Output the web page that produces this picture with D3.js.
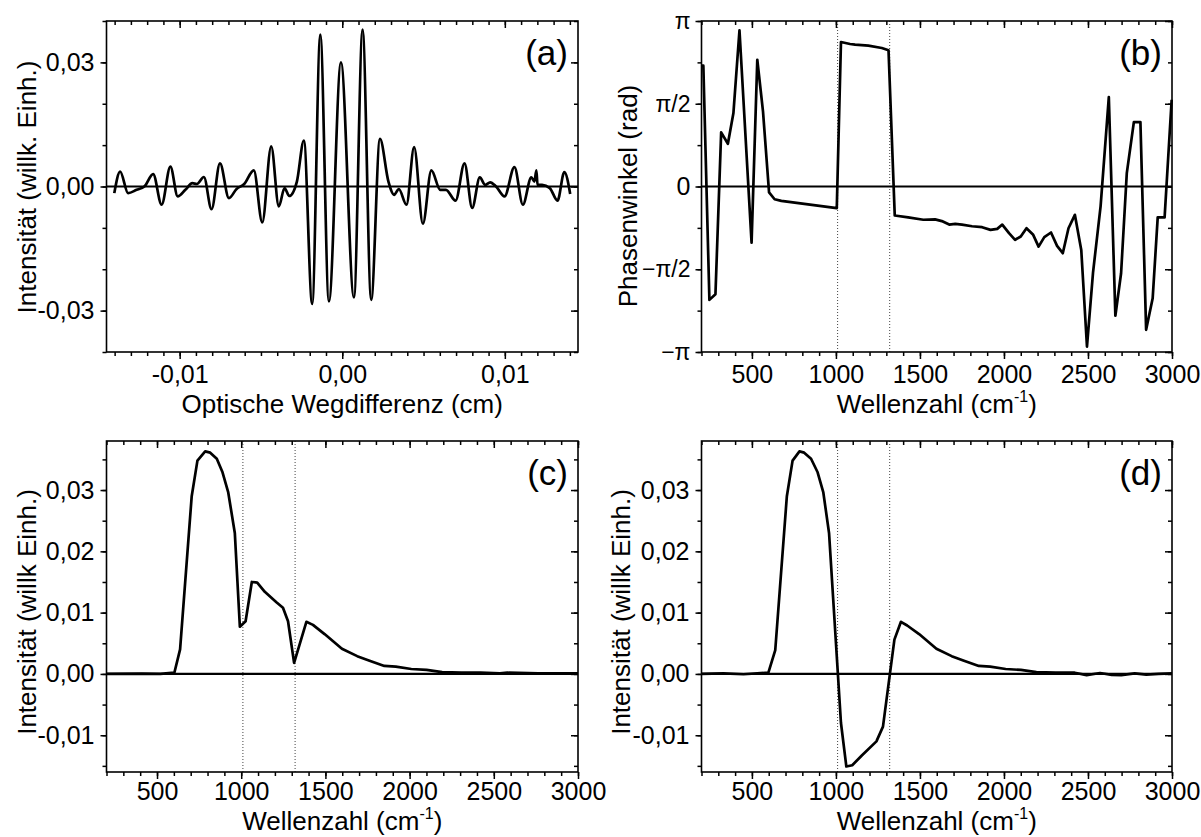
<!DOCTYPE html>
<html><head><meta charset="utf-8">
<script src="https://cdn.jsdelivr.net/npm/d3@7"></script>
<style>
body{margin:0;background:#fff}
svg text{font-family:"Liberation Sans",Arial,sans-serif;fill:#000}
</style>
</head><body>
<svg id="fig" width="1201" height="837"></svg>
<script>
// ---------- DATA ----------
// (a) interferogram: optical path difference (cm) vs intensity
const aX = [-0.01402,-0.01366,-0.01317,-0.01265,-0.01217,
  -0.01163,-0.01111,-0.01057,-0.01012,-0.00965,
  -0.00922,-0.00894,-0.00851,-0.00804,-0.00752,
  -0.00697,-0.00650,-0.00603,-0.00544,-0.00492,
  -0.00437,-0.00390,-0.00355,-0.00326,-0.00279,
  -0.00236,-0.00185,-0.00135,-0.00082,-0.00008,
  0.00072,0.00125,0.00178,0.00232,0.00284,
  0.00319,0.00348,0.00395,0.00442,0.00496,
  0.00548,0.00603,0.00638,0.00697,0.00752,
  0.00799,0.00846,0.00879,0.00910,0.00946,
  0.00998,0.01059,0.01111,0.01163,0.01182,
  0.01194,0.01201,0.01229,0.01277,0.01324,
  0.01366,0.01402];
const aY = [-0.0016,0.0036,-0.0016,-0.0008,0.0,
  0.0030,-0.0044,0.0048,-0.0024,-0.0008,
  0.0008,0.0006,0.0023,-0.0055,0.0056,
  -0.0028,-0.0006,0.0006,0.0039,-0.0087,
  0.0097,-0.0048,-0.0004,-0.0023,0.0012,
  0.0111,-0.0284,0.0367,-0.0278,0.0300,
  -0.0268,0.0379,-0.0274,0.0115,0.0012,
  -0.0020,-0.0006,-0.0044,0.0095,-0.0090,
  0.0039,-0.0008,-0.0008,-0.0034,0.0056,
  -0.0052,0.0022,0.0004,0.0010,0.0,
  -0.0024,0.0047,-0.0044,0.0022,0.0012,
  0.0039,0.0004,0.0004,-0.0004,-0.0034,
  0.0035,-0.0018];

// (b) phase angle (in units of pi) vs wavenumber
const bX = [203,211,247,283,317, 357,390,426,498,532, 566,602,635,675,1005,
  1030,1084,1114,1193,1273, 1313,1350,1430,1520,1590, 1630,1674,1710,1750,1810,
  1870,1920,1960,1990,2030, 2066,2100,2134,2174,2206, 2240,2280,2316,2350,2384,
  2422,2460,2494,2530,2575, 2624,2663,2697,2731,2773, 2812,2846,2885,2915,2956, 2998];
const bYpi = [0.73,0.73,-0.685,-0.651,0.327, 0.258,0.444,0.944,-0.339,0.766, 0.454,-0.036,-0.077,-0.087,-0.131,
  0.873,0.861,0.857,0.851,0.837, 0.823,-0.175,-0.187,-0.201,-0.199, -0.209,-0.230,-0.226,-0.230,-0.240,
  -0.246,-0.262,-0.256,-0.230,-0.282, -0.322,-0.302,-0.252,-0.292,-0.363, -0.306,-0.278,-0.359,-0.403,-0.252,
  -0.171,-0.383,-0.967,-0.52,-0.12, 0.540,-0.781,-0.524,0.081,0.389, 0.389,-0.866,-0.675,-0.187,-0.187, 0.524];

// (c) magnitude spectrum
const cX = [200,410,520,603,637, 706,740,786,816,855, 889,923,962,992,1026,
  1063,1095,1140,1209,1248, 1278,1314,1387,1426,1495, 1598,1689,1758,1850,1918,
  2010,2101,2193,2307,2421, 2536,2581,2764,3000];
const cY = [0,0.00005,0,0.0002,0.004, 0.029,0.0348,0.0363,0.0361,0.0351, 0.0329,0.0296,0.023,0.0077,0.0086,
  0.015,0.0149,0.0134,0.0117,0.0108, 0.0086,0.0018,0.0085,0.008,0.0065, 0.0041,0.0029,0.0022,0.0013,0.0012,
  0.0008,0.00065,0.0003,0.0002,0.0002, 0.0001,0.0002,0.0001,0.0001];

// (d) phase-corrected spectrum
const dX = [200,330,450,598,639, 708,742,783,811,852, 891,925,959,1030,1062,
  1097,1154,1241,1280,1348, 1387,1424,1495,1598,1689, 1758,1850,1918,2010,2101,
  2193,2307,2421,2492,2572, 2641,2698,2778,2847,2920, 3000];
const dY = [0,0.0001,-0.00005,0.0002,0.0039, 0.029,0.0348,0.0363,0.0361,0.0351, 0.0329,0.0296,0.023,-0.008,-0.0151,
  -0.0149,-0.0133,-0.011,-0.0086,0.0056, 0.0085,0.0079,0.0065,0.0041,0.0029, 0.0022,0.0013,0.0012,0.0008,0.00065,
  0.0003,0.0002,0.0002,-0.0002,0.00015, -0.00015,-0.0002,0.0001,-0.0001,0.0, 0.0001];

// marker wavenumbers (dotted lines)
const markerX = [1010, 1320];

// tick values / labels
const aXMajor = [-0.01, 0, 0.01];
const aYMajor = [-0.03, 0, 0.03];
const wnMajor = [500, 1000, 1500, 2000, 2500, 3000];
const bYMajorPi = [-1, -0.5, 0, 0.5, 1];
const bYLabels = ["\u2212\u03c0", "\u2212\u03c0/2", "0", "\u03c0/2", "\u03c0"];
const cdYMajor = [-0.01, 0, 0.01, 0.02, 0.03];

// ---------- DRAW ----------
const svg = d3.select("#fig");
const comma = v => { const s = Math.abs(v).toFixed(2).replace(".", ","); return (v < -1e-12 ? "-" : "") + s; };
const PI = Math.PI;

function panel(o) {
  const g = svg.append("g");
  const x = d3.scaleLinear().domain(o.xDomain).range([o.L, o.R]);
  const y = d3.scaleLinear().domain(o.yDomain).range([o.B, o.T]);

  const styleAxis = sel => {
    sel.select(".domain").remove();
    sel.selectAll("line").attr("stroke", "#000").attr("stroke-width", 1.5);
    sel.attr("font-family", null).attr("font-size", null);
    sel.selectAll("text").attr("font-size", 25);
  };
  g.append("g").attr("transform", `translate(0,${o.B})`)
    .call(d3.axisBottom(x).tickValues(o.xMinor).tickSize(4).tickFormat("")).call(styleAxis);
  g.append("g").attr("transform", `translate(0,${o.B})`)
    .call(d3.axisBottom(x).tickValues(o.xMajor).tickSize(7).tickPadding(o.xPad || 6).tickFormat(o.xFmt)).call(styleAxis);
  g.append("g").attr("transform", `translate(0,${o.T})`)
    .call(d3.axisTop(x).tickValues(o.xMinor).tickSize(-4).tickFormat("")).call(styleAxis);
  g.append("g").attr("transform", `translate(0,${o.T})`)
    .call(d3.axisTop(x).tickValues(o.xMajor).tickSize(-7).tickFormat("")).call(styleAxis);
  g.append("g").attr("transform", `translate(${o.L},0)`)
    .call(d3.axisLeft(y).tickValues(o.yMinor).tickSize(4).tickFormat("")).call(styleAxis);
  const yl = g.append("g").attr("transform", `translate(${o.L},0)`)
    .call(d3.axisLeft(y).tickValues(o.yMajor).tickSize(6).tickPadding(o.yPad || 6).tickFormat(o.yFmt)).call(styleAxis);
  if (o.yLabelStyle) o.yLabelStyle(yl);
  g.append("g").attr("transform", `translate(${o.R},0)`)
    .call(d3.axisRight(y).tickValues(o.yMinor).tickSize(-4).tickFormat("")).call(styleAxis);
  g.append("g").attr("transform", `translate(${o.R},0)`)
    .call(d3.axisRight(y).tickValues(o.yMajor).tickSize(-7).tickFormat("")).call(styleAxis);

  (o.markers || []).forEach(m => {
    g.append("line").attr("x1", x(m)).attr("x2", x(m)).attr("y1", o.T).attr("y2", o.B)
      .attr("stroke", "#444").attr("stroke-width", 1).attr("stroke-dasharray", "1,2");
  });
  g.append("line").attr("x1", o.L).attr("x2", o.R).attr("y1", y(0)).attr("y2", y(0))
    .attr("stroke", "#000").attr("stroke-width", 2.2);
  const pts = o.xs.map((v, i) => [v, o.ys[i]]);
  g.append("path").datum(pts)
    .attr("d", d3.line().x(d => x(d[0])).y(d => y(d[1])).curve(o.curve || d3.curveLinear))
    .attr("fill", "none").attr("stroke", "#000").attr("stroke-width", 2.7).attr("stroke-linejoin", "round");
  g.append("rect").attr("x", o.L).attr("y", o.T).attr("width", o.R - o.L).attr("height", o.B - o.T)
    .attr("fill", "none").attr("stroke", "#000").attr("stroke-width", 1.6);

  const xt = g.append("text").attr("x", (o.L + o.R) / 2).attr("y", o.B + (o.xTitleOff || 61))
    .attr("text-anchor", "middle").attr("font-size", 26);
  if (o.xTitleSup) {
    xt.append("tspan").text(o.xTitle);
    xt.append("tspan").attr("dy", -11).attr("font-size", 16).text(o.xTitleSup);
    xt.append("tspan").attr("dy", 11).text(")");
  } else xt.text(o.xTitle);
  g.append("text").attr("transform", `translate(${o.yTitleX},${o.yTitleY}) rotate(-90)`)
    .attr("text-anchor", "middle").attr("dy", "0.36em").attr("font-size", 26).text(o.yTitle);
  g.append("text").attr("x", o.R - 10).attr("y", o.T + 44).attr("text-anchor", "end")
    .attr("font-size", 35).text(o.tag);
}

const rangeStep = (a, b, s) => d3.range(Math.round(a / s), Math.round(b / s) + 1).map(i => +(i * s).toFixed(6));

panel({
  L: 106.5, R: 578, T: 21, B: 352,
  xDomain: [-0.0145, 0.0145], yDomain: [-0.04, 0.04],
  xMajor: aXMajor, xMinor: rangeStep(-0.014, 0.014, 0.001),
  yMajor: aYMajor, yMinor: rangeStep(-0.04, 0.04, 0.01),
  xFmt: comma, yFmt: comma,
  xs: aX, ys: aY, curve: d3.curveMonotoneX,
  xTitle: "Optische Wegdifferenz (cm)",
  yTitle: "Intensität (willk. Einh.)", yTitleX: 27, yTitleY: 187,
  tag: "(a)"
});

panel({
  L: 701.5, R: 1172, T: 21, B: 352,
  xDomain: [200, 3000], yDomain: [-PI, PI],
  xMajor: wnMajor, xMinor: rangeStep(200, 3000, 100),
  yMajor: bYMajorPi.map(v => v * PI), yMinor: rangeStep(-1, 1, 0.25).map(v => v * PI),
  xFmt: d3.format("d"), yFmt: (v, i) => bYLabels[i], yPad: 5,
  yLabelStyle: sel => sel.selectAll(".tick text").each(function (d, i) {
    if (bYLabels[i] !== "0") d3.select(this).attr("font-family", "'Liberation Serif','Times New Roman',serif").attr("font-size", 23);
  }),
  xs: bX, ys: bYpi.map(v => v * PI),
  markers: markerX,
  xTitle: "Wellenzahl (cm", xTitleSup: "-1",
  yTitle: "Phasenwinkel (rad)", yTitleX: 628, yTitleY: 196,
  tag: "(b)"
});

panel({
  L: 106.5, R: 578, T: 441, B: 772,
  xDomain: [200, 3000], yDomain: [-0.016, 0.038],
  xMajor: wnMajor, xMinor: rangeStep(200, 3000, 100), xPad: 3,
  yMajor: cdYMajor, yMinor: rangeStep(-0.015, 0.035, 0.005),
  xFmt: d3.format("d"), yFmt: comma,
  xs: cX, ys: cY, markers: markerX,
  xTitle: "Wellenzahl (cm", xTitleSup: "-1", xTitleOff: 58,
  yTitle: "Intensität (willk Einh.)", yTitleX: 27, yTitleY: 612,
  tag: "(c)"
});

panel({
  L: 701.5, R: 1172, T: 441, B: 772,
  xDomain: [200, 3000], yDomain: [-0.016, 0.038],
  xMajor: wnMajor, xMinor: rangeStep(200, 3000, 100), xPad: 3,
  yMajor: cdYMajor, yMinor: rangeStep(-0.015, 0.035, 0.005),
  xFmt: d3.format("d"), yFmt: comma,
  xs: dX, ys: dY, markers: markerX,
  xTitle: "Wellenzahl (cm", xTitleSup: "-1", xTitleOff: 58,
  yTitle: "Intensität (willk Einh.)", yTitleX: 621, yTitleY: 612,
  tag: "(d)"
});
</script>
</body></html>
